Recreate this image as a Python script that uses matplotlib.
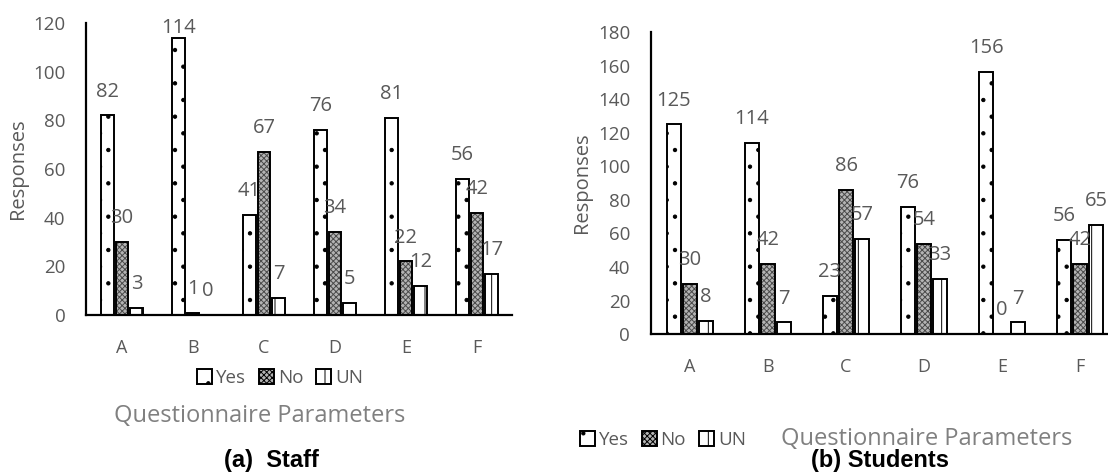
import numpy as np
import matplotlib.pyplot as plt
from matplotlib.patches import Patch

plt.rcParams['font.family'] = ['Open Sans', 'DejaVu Sans']
plt.rcParams['hatch.linewidth'] = 0.7

categories = ['A', 'B', 'C', 'D', 'E', 'F']
series = ['Yes', 'No', 'UN']

staff_yes = [82, 114, 41, 76, 81, 56]
staff_no = [30, 1, 67, 34, 22, 42]
staff_un = [3, 0, 7, 5, 12, 17]

stud_yes = [125, 114, 23, 76, 156, 56]
stud_no = [30, 42, 86, 54, 0, 42]
stud_un = [8, 7, 57, 33, 7, 65]

GRAY = '#595959'
# fill style per series: (facecolor, hatch colour, hatch)
styles = [('white', 'black', '.'),
          ('#b4b4b4', '#4a4a4a', 'xxxxxx'),
          ('white', 'black', '|')]

fig = plt.figure(figsize=(11.08, 4.72), dpi=100)
ax1 = fig.add_axes([0.078, 0.3326, 0.3845, 0.6186])
ax2 = fig.add_axes([0.5875, 0.292, 0.4225, 0.640])


def draw(ax, data, ymax):
    x = np.arange(len(categories))
    w = 0.18
    for i, (vals, (fc, hc, h)) in enumerate(zip(data, styles)):
        xs = x + (i - 1) * 0.205
        ax.bar(xs, vals, w, facecolor=fc, edgecolor=hc, hatch=h, linewidth=0)
        ax.bar(xs, vals, w, fill=False, edgecolor='black', linewidth=1.4)
        for xi, v in zip(xs, vals):
            ax.annotate(str(v), (xi, min(v, ymax * 0.9)), xytext=(0, 10),
                        textcoords='offset points', ha='center', va='bottom',
                        color=GRAY, fontsize=14.5, annotation_clip=False)
    ax.set_xlim(-0.5, len(categories) - 0.5)
    ax.set_ylim(0, ymax)
    ax.set_yticks(np.arange(0, ymax + 1, 20))
    ax.set_xticks(x)
    ax.set_xticklabels(categories)
    ax.tick_params(length=0, colors=GRAY, labelsize=13.5, pad=15)
    ax.tick_params(axis='x', labelsize=13, pad=17)
    for s in ['top', 'right']:
        ax.spines[s].set_visible(False)
    for s in ['left', 'bottom']:
        ax.spines[s].set_linewidth(1.6)
    ax.set_ylabel('Responses', color=GRAY, fontsize=14.5, labelpad=4)


draw(ax1, [staff_yes, staff_no, staff_un], 120)
draw(ax2, [stud_yes, stud_no, stud_un], 180)

handles = [Patch(facecolor=fc, edgecolor='black', hatch=h, linewidth=1.4, label=s)
           for s, (fc, hc, h) in zip(series, styles)]
leg_kw = dict(ncol=3, frameon=False, fontsize=13.5, handlelength=0.8,
              handleheight=0.8, handletextpad=0.2, columnspacing=0.7,
              labelcolor=GRAY)
fig.legend(handles=handles, loc='center', bbox_to_anchor=(280 / 1108, 1 - 378 / 472), **leg_kw)
fig.legend(handles=handles, loc='center', bbox_to_anchor=(663 / 1108, 1 - 440 / 472), **leg_kw)

fig.text(260 / 1108, 1 - 416 / 472, 'Questionnaire Parameters', ha='center', va='center',
         color='#808080', fontsize=17)
fig.text(927 / 1108, 1 - 439 / 472, 'Questionnaire Parameters', ha='center', va='center',
         color='#808080', fontsize=17)
fig.text(271 / 1108, 1 - 461 / 472, '(a)  Staff', ha='center', va='center',
         family='Liberation Sans', fontweight='bold', fontsize=17)
fig.text(880 / 1108, 1 - 461 / 472, '(b) Students', ha='center', va='center',
         family='Liberation Sans', fontweight='bold', fontsize=17)

fig.savefig('out.png', dpi=100)
